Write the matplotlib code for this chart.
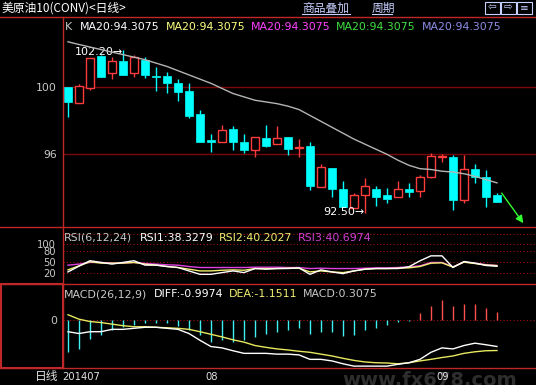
import numpy as np
import matplotlib.pyplot as plt
from matplotlib import transforms

W, H = 536, 385

# daily candles, 2014-07 .. 2014-09
opens  = [100.00, 99.05, 99.95, 101.80, 100.80, 101.50, 100.80, 101.60, 100.65, 100.65,
          100.20, 99.75, 98.40, 96.82, 96.70, 97.50, 96.70, 96.25, 96.95, 96.60,
          97.00, 96.35, 96.50, 94.05, 95.20, 93.95, 92.85, 93.60, 93.95, 93.60,
          93.45, 93.95, 93.80, 94.65, 95.85, 95.82, 93.30, 95.15, 94.65, 93.60]
highs  = [100.00, 100.15, 101.70, 101.85, 101.78, 102.20, 101.85, 101.75, 101.15, 100.85,
          100.45, 100.25, 98.65, 97.20, 97.75, 97.70, 97.20, 97.05, 97.75, 97.65,
          97.00, 96.90, 96.75, 95.45, 95.20, 94.45, 93.70, 94.60, 94.15, 94.00,
          94.45, 94.30, 94.80, 96.05, 96.00, 95.95, 95.95, 95.45, 95.05, 93.70]
lows   = [98.20, 99.05, 99.80, 100.55, 100.45, 100.70, 100.55, 100.50, 99.75, 99.60,
          99.15, 98.15, 96.75, 96.15, 96.70, 96.25, 96.05, 95.85, 96.45, 96.60,
          95.95, 95.85, 93.90, 94.05, 93.50, 92.90, 92.85, 92.50, 92.95, 93.10,
          93.45, 93.45, 93.45, 94.60, 95.55, 92.70, 93.10, 94.30, 92.90, 93.20]
closes = [99.10, 100.05, 101.70, 100.60, 101.55, 100.70, 101.75, 100.70, 100.55, 100.20,
          99.70, 98.25, 96.75, 96.75, 97.45, 96.75, 96.25, 97.00, 96.50, 96.95,
          96.30, 96.45, 94.10, 95.25, 93.95, 92.90, 93.60, 94.10, 93.45, 93.35,
          93.95, 93.75, 94.65, 95.90, 95.87, 93.30, 95.15, 94.65, 93.50, 93.20]
ma20   = [102.66, 102.50, 102.35, 102.20, 102.05, 101.90, 101.75, 101.60, 101.40, 101.20,
          100.95, 100.70, 100.45, 100.20, 99.90, 99.60, 99.40, 99.20, 99.10, 99.00,
          98.85, 98.65, 98.30, 97.95, 97.60, 97.25, 96.90, 96.60, 96.30, 96.00,
          95.65, 95.35, 95.15, 95.10, 95.00, 94.95, 94.85, 94.70, 94.50, 94.31]

rsi1 = [22.6, 38.7, 53.9, 49.1, 44.4, 49.1, 53.9, 41.6, 41.6, 37.7,
        34.9, 25.4, 15.9, 15.9, 20.7, 25.4, 20.7, 32.1, 30.2, 32.1,
        32.1, 34.0, 15.9, 28.3, 22.6, 17.8, 25.4, 30.2, 32.1, 32.1,
        32.1, 37.0, 53.6, 67.5, 67.5, 35.0, 51.7, 47.2, 40.6, 38.3]
rsi2 = [28.3, 39.6, 51.0, 47.2, 47.2, 47.2, 49.0, 44.4, 41.6, 37.7,
        34.9, 30.2, 25.4, 25.4, 27.3, 28.3, 27.3, 32.0, 32.0, 32.0,
        33.0, 33.0, 22.6, 25.4, 22.6, 20.7, 25.4, 30.2, 32.0, 32.0,
        33.0, 34.0, 37.7, 47.0, 48.0, 36.0, 50.0, 46.0, 42.0, 40.2]
rsi3 = [41.5, 44.4, 49.0, 49.0, 47.2, 47.2, 49.0, 46.3, 44.4, 42.5,
        41.5, 37.7, 34.9, 34.9, 34.9, 34.9, 34.9, 35.8, 35.8, 35.8,
        34.9, 34.9, 32.0, 33.0, 32.0, 32.0, 32.0, 33.0, 34.0, 34.0,
        35.0, 36.8, 39.6, 49.0, 49.0, 37.0, 50.0, 47.0, 43.0, 40.7]

diff = [-0.43, -0.50, -0.43, -0.43, -0.34, -0.34, -0.30, -0.26, -0.26, -0.30,
        -0.34, -0.50, -0.76, -1.00, -1.05, -1.16, -1.26, -1.26, -1.26, -1.29,
        -1.29, -1.32, -1.49, -1.49, -1.55, -1.66, -1.75, -1.75, -1.75, -1.75,
        -1.68, -1.62, -1.49, -1.22, -1.05, -1.09, -0.96, -0.87, -0.93, -0.9974]
dea  = [0.22, 0.05, -0.04, -0.08, -0.14, -0.20, -0.24, -0.24, -0.26, -0.28,
        -0.30, -0.34, -0.43, -0.53, -0.63, -0.74, -0.83, -0.96, -1.03, -1.09,
        -1.13, -1.18, -1.22, -1.29, -1.36, -1.45, -1.53, -1.59, -1.62, -1.63,
        -1.66, -1.62, -1.55, -1.49, -1.42, -1.36, -1.26, -1.20, -1.16, -1.1511]
macd = [-1.22, -1.09, -0.70, -0.57, -0.37, -0.24, -0.17, -0.11, -0.11, -0.11,
        -0.21, -0.37, -0.57, -0.83, -0.76, -0.83, -0.76, -0.63, -0.50, -0.43,
        -0.37, -0.30, -0.50, -0.43, -0.43, -0.61, -0.57, -0.37, -0.30, -0.19,
        -0.06, -0.01, 0.28, 0.54, 0.79, 0.56, 0.63, 0.64, 0.47, 0.3075]

date_pos = [1, 14, 35]
date_labels = ['201407', '08', '09']

UP = '#ff3c3c'
DOWN = '#00ffff'
GRID = '#7a0808'
SEP = '#c02828'
CJK = ['Noto Sans CJK SC', 'DejaVu Sans']

x = np.arange(1, len(opens) + 1)
n = len(opens)

fig = plt.figure(figsize=(W / 100, H / 100), dpi=100, facecolor='black')


def px_axes(x0, y0, x1, y1):
    a = fig.add_axes([x0 / W, 1 - y1 / H, (x1 - x0) / W, (y1 - y0) / H])
    a.set_facecolor('black')
    for s in a.spines.values():
        s.set_visible(False)
    a.set_xlim(0.518, 43.55)
    a.set_xticks([])
    a.tick_params(axis='y', length=0, pad=4, colors='#c8c8c8', labelsize=7.8)
    return a


def ftext(px, py, s, **kw):
    fig.text(px / W, 1 - py / H, s, **kw)


# ---- main K-line panel
ax = px_axes(62.7, 17.3, 536, 227.3)
ax.set_ylim(91.68, 104.11)
ax.set_yticks([96, 100])
ax.set_yticklabels(['96', '100'])
for v in [96, 100]:
    ax.axhline(v, color=GRID, lw=1, zorder=0)

bw = 0.72
for i in range(n):
    o, h, l, c = opens[i], highs[i], lows[i], closes[i]
    up = c >= o
    col = UP if up else DOWN
    top, bot = max(o, c), min(o, c)
    ax.vlines(x[i], top, h, color=col, lw=1, zorder=2)
    ax.vlines(x[i], l, bot, color=col, lw=1, zorder=2)
    hgt = max(top - bot, 0.04)
    if up:
        ax.bar(x[i], hgt, bottom=bot, width=bw, facecolor='black', edgecolor=col, lw=1, zorder=3)
    else:
        ax.bar(x[i], hgt, bottom=bot, width=bw, facecolor=col, edgecolor=col, lw=0.5, zorder=3)

ax.plot(x, ma20, color='#b4b4b4', lw=1, zorder=4)

imax = int(np.argmax(highs))
imin = int(np.argmin(lows))
ax.annotate(f'{highs[imax]:.2f}\u2192', xy=(x[imax], highs[imax]), xytext=(0, -2),
            textcoords='offset points', ha='right', va='center', color='white', fontsize=8)
ax.annotate(f'{lows[imin]:.2f}\u2192', xy=(x[imin], lows[imin]), xytext=(0, 1),
            textcoords='offset points', ha='right', va='center', color='white', fontsize=8)
ax.annotate('', xy=(x[-1] + 0.43, highs[-1]), xytext=(15.6, -21.6), textcoords='offset points',
            arrowprops=dict(arrowstyle='<|-', color='#30ff30', lw=1, mutation_scale=11,
                            shrinkA=0, shrinkB=0))

# ---- RSI panel
ar = px_axes(62.7, 227.3, 536, 283.7)
ar.set_ylim(-10.3, 147.2)
ar.set_yticks([20, 50, 80, 100])
ar.set_yticklabels(['20', '50', '80', '100'])
ar.tick_params(axis='y', labelsize=7.2, pad=5)
for v in [20, 50, 80, 100, 128]:
    ar.axhline(v, color='#a01010', lw=0.8, ls=(0, (1, 2)), zorder=0)
ar.plot(x, rsi3, color='#e040e0', lw=1)
ar.plot(x, rsi2, color='#f0f070', lw=1)
ar.plot(x, rsi1, color='white', lw=1)

# ---- MACD panel
am = px_axes(62.7, 283.7, 536, 367.7)
am.set_ylim(-1.81, 1.41)
am.set_yticks([0])
am.set_yticklabels(['0'])
am.axhline(0, color='#a01010', lw=0.8, ls=(0, (1, 2)), zorder=0)
mv = np.array(macd)
am.vlines(x[mv < 0], 0, mv[mv < 0], color='#40f0f0', lw=1)
am.vlines(x[mv >= 0], 0, mv[mv >= 0], color='#ff5050', lw=1)
am.plot(x, dea, color='#e8e860', lw=1)
am.plot(x, diff, color='white', lw=1)

# ---- frame lines
for yy in [17.3, 227.3, 283.7, 367.7]:
    fig.add_artist(plt.Line2D([0, 1], [1 - yy / H] * 2, color=SEP, lw=1))
fig.add_artist(plt.Line2D([62.7 / W] * 2, [1 - 17.3 / H, 1 - 367.7 / H], color=SEP, lw=1))
fig.add_artist(plt.Rectangle((1 / W, 1 - 367.7 / H), 61.7 / W, 84 / H, fill=False,
                             edgecolor=SEP, lw=1.5))

# ---- title bar
ftext(2, 8, '美原油10(CONV)<日线>', color='white', fontsize=8.5, family=CJK, va='center')
ftext(302, 8, '商品叠加', color='#c8d0ff', fontsize=8.5, family=CJK, va='center')
ftext(372, 8, '周期', color='#c8d0ff', fontsize=8.5, family=CJK, va='center')
for xx in [(302, 350), (372, 392)]:
    fig.add_artist(plt.Line2D([xx[0] / W, xx[1] / W], [1 - 14 / H] * 2, color='#c8d0ff', lw=0.8))
for bx, s in [(485, '\u21e6'), (501, '\u21e8'), (517, '\u2261')]:
    fig.add_artist(plt.Rectangle((bx / W, 1 - 13.5 / H), 15 / W, 11.5 / H, fill=False,
                                 edgecolor='#c8d0ff', lw=0.8))
    ftext(bx + 7.5, 7.8, s, color='#c8d0ff', fontsize=7.5, ha='center', va='center')

# ---- legends
ftext(64.5, 26.7, 'K', color='#c8c8c8', fontsize=7.9, va='center')
for xx, col in [(80, 'white'), (165.7, '#ffff80'), (251, '#ff40ff'), (336, '#40e040'), (421.7, '#8c8ce6')]:
    ftext(xx, 26.7, 'MA20:94.3075', color=col, fontsize=7.9, va='center')

ftext(63.5, 238, 'RSI(6,12,24)', color='#c8c8c8', fontsize=7.9, va='center')
ftext(140, 238, 'RSI1:38.3279', color='white', fontsize=7.9, va='center')
ftext(219, 238, 'RSI2:40.2027', color='#f0f070', fontsize=7.9, va='center')
ftext(297.5, 238, 'RSI3:40.6974', color='#d040d0', fontsize=7.9, va='center')

ftext(63.5, 294.4, 'MACD(26,12,9)', color='#c8c8c8', fontsize=7.9, va='center')
ftext(153.8, 294.4, 'DIFF:-0.9974', color='white', fontsize=7.9, va='center')
ftext(228.4, 294.4, 'DEA:-1.1511', color='#f0f070', fontsize=7.9, va='center')
ftext(302.6, 294.4, 'MACD:0.3075', color='#c8c8c8', fontsize=7.9, va='center')

# ---- date row
ftext(342, 380, 'www.fx678.com', color='#2e2e2e', fontsize=14, fontweight='bold',
      va='center', zorder=0.5)
ftext(58.5, 376.7, '日线', color='#e0e0e0', fontsize=8.5, family=CJK, ha='right', va='center')
tr = transforms.blended_transform_factory(am.transData, fig.transFigure)
for p, s in zip(date_pos, date_labels):
    fig.text(p - 0.5, 1 - 376.7 / H, s, transform=tr, color='#e0e0e0', fontsize=7.2,
             ha='left', va='center', zorder=5)

fig.savefig('out.png', dpi=100, facecolor='black')
